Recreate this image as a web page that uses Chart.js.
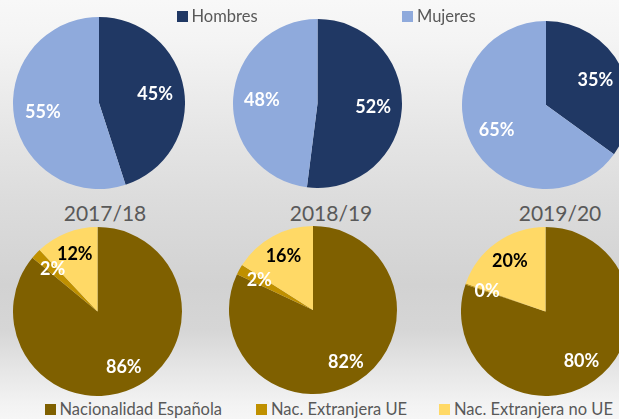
<!DOCTYPE html>
<html>
<head>
<meta charset="utf-8">
<script src="https://cdn.jsdelivr.net/npm/chart.js@4.4.1/dist/chart.umd.min.js"></script>
<style>
  html, body { margin:0; padding:0; width:619px; height:419px; overflow:hidden; }
  body {
    position:relative;
    font-family: Lato, "Open Sans", sans-serif;
    background: linear-gradient(to bottom, #f8f8f8 0px, #f4f4f4 40px, #e6e6e6 130px, #dcdcdc 200px, #d2d2d2 285px, #d6d6d6 330px, #e6e6e6 370px, #f3f3f3 405px, #f6f6f6 419px);
  }
  .pie { position:absolute; }
  .pie canvas { display:block; }
  .title { position:absolute; font-size:21px; color:#595959; transform:translate(-50%,-50%); white-space:nowrap; }
  .leg { position:absolute; font-size:16.5px; color:#595959; white-space:nowrap; line-height:16px; transform:translateY(-50%); }
  .leg i { display:inline-block; width:11px; height:11px; margin-right:4px; vertical-align:0px; }
</style>
</head>
<body>
<script>
// ---- data ----
const periods = ["2017/18", "2018/19", "2019/20"];
const genderLabels = ["Hombres", "Mujeres"];
const hombres = [45, 52, 35];
const mujeres = [55, 48, 65];
const nationalityLabels = ["Nacionalidad Española", "Nac. Extranjera UE", "Nac. Extranjera no UE"];
const espanola = [86, 82, 80.2];
const extranjeraUE = [2, 2, 0.2];
const extranjeraNoUE = [12, 16, 19.6];

// ---- styles / layout ----
const genderColors = ["#203864", "#8faadc"];
const natColors = ["#7f6000", "#bf9000", "#ffd966"];
const natLabelColors = ["#ffffff", "#ffffff", "#000000"];
const genderLabelColors = ["#ffffff", "#ffffff"];
const topCenters = [[99, 103, 86], [317, 103.5, 84.5], [545.6, 105, 84]];
const bottomCenters = [[97, 311.5, 84.5], [312.5, 310, 84], [545.6, 311.5, 84.5]];
const titlePos = [[105, 212], [331, 212], [560, 212]];

const labelPlugin = {
  id: 'pctLabels',
  afterDatasetsDraw(chart, args, opts) {
    const ctx = chart.ctx;
    const meta = chart.getDatasetMeta(0);
    const ds = chart.data.datasets[0];
    ctx.save();
    ctx.font = 'bold 18px Lato, sans-serif';
    ctx.textAlign = 'center';
    ctx.textBaseline = 'middle';
    meta.data.forEach((arc, i) => {
      const p = arc.getProps(['x', 'y', 'startAngle', 'endAngle', 'outerRadius'], true);
      const mid = (p.startAngle + p.endAngle) / 2;
      const r = p.outerRadius * opts.factor;
      ctx.fillStyle = opts.colors[i];
      ctx.fillText(Math.round(ds.data[i]) + '%', p.x + Math.cos(mid) * r, p.y + Math.sin(mid) * r);
    });
    ctx.restore();
  }
};

function makePie(center, labels, values, colors, labelColors, factor) {
  const [cx, cy, r] = center;
  const size = Math.round(2 * r);
  const div = document.createElement('div');
  div.className = 'pie';
  div.style.left = (cx - size / 2) + 'px';
  div.style.top = (cy - size / 2) + 'px';
  div.style.width = size + 'px';
  div.style.height = size + 'px';
  const cv = document.createElement('canvas');
  cv.width = size; cv.height = size;
  div.appendChild(cv);
  document.body.appendChild(div);
  new Chart(cv, {
    type: 'pie',
    data: { labels: labels, datasets: [{ data: values, backgroundColor: colors, borderWidth: 0, hoverBorderWidth: 0, offset: 0, hoverOffset: 0 }] },
    options: {
      responsive: false, animation: false, devicePixelRatio: 1, events: [],
      layout: { padding: 0 },
      plugins: { legend: { display: false }, tooltip: { enabled: false }, pctLabels: { factor: factor, colors: labelColors } }
    },
    plugins: [labelPlugin]
  });
}

periods.forEach((p, k) => {
  makePie(topCenters[k], genderLabels, [hombres[k], mujeres[k]], genderColors, genderLabelColors, 0.66);
  makePie(bottomCenters[k], nationalityLabels, [espanola[k], extranjeraUE[k], extranjeraNoUE[k]], natColors, natLabelColors, 0.73);
  const t = document.createElement('div');
  t.className = 'title';
  t.textContent = p;
  t.style.left = titlePos[k][0] + 'px';
  t.style.top = titlePos[k][1] + 'px';
  document.body.appendChild(t);
});

function legendItem(x, y, color, text) {
  const d = document.createElement('div');
  d.className = 'leg';
  d.style.left = x + 'px';
  d.style.top = y + 'px';
  const i = document.createElement('i');
  i.style.background = color;
  d.appendChild(i);
  d.appendChild(document.createTextNode(text));
  document.body.appendChild(d);
}
legendItem(176.5, 15.5, genderColors[0], genderLabels[0]);
legendItem(402, 15.5, genderColors[1], genderLabels[1]);
legendItem(44.5, 408.5, natColors[0], nationalityLabels[0]);
legendItem(256, 408.5, natColors[1], nationalityLabels[1]);
legendItem(439, 408.5, natColors[2], nationalityLabels[2]);
</script>
</body>
</html>
